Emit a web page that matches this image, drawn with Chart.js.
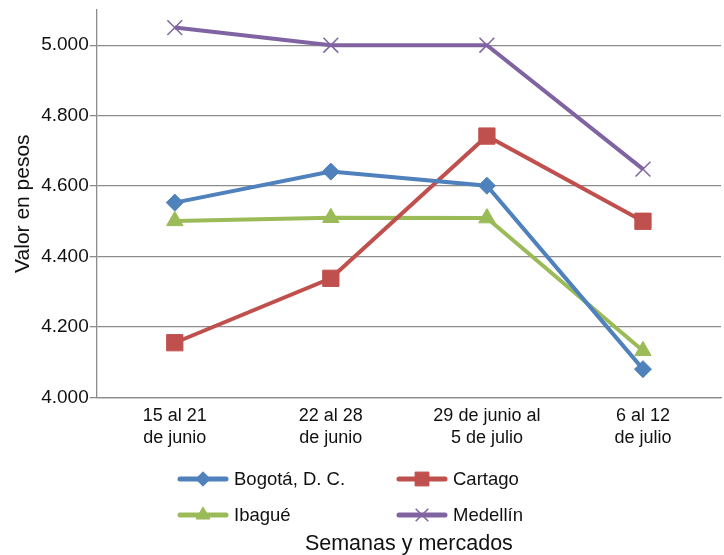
<!DOCTYPE html>
<html lang="es">
<head>
<meta charset="utf-8">
<title>Valor en pesos por semana y mercado</title>
<script src="https://cdn.jsdelivr.net/npm/chart.js@4.4.0/dist/chart.umd.min.js"></script>
<style>
    html, body { margin: 0; padding: 0; background: #fff; overflow: hidden; }
    #wrap { position: relative; width: 724px; height: 555px; }
</style>
</head>
<body>
<div id="wrap"><canvas id="grafica"></canvas></div>
<script>
// semanas (eje x), cada una en dos líneas
const semanas = [
    ['15 al 21', 'de junio'],
    ['22 al 28', 'de junio'],
    ['29 de junio al', '5 de julio'],
    ['6 al 12', 'de julio']
];
// precios, en pesos
const bogota = [4553, 4641, 4601, 4080];
const cartago = [4155, 4338, 4742, 4500];
const ibague = [4501, 4510, 4509, 4132];
const medellin = [5050, 5000, 5000, 4648];
// marcas del eje y
const yMin = 4000, yMax = 5100, yPaso = 200;

const TXT = '#111111';
const GRID = '#8c8c8c';
const FONT = "'Liberation Sans', Arial, sans-serif";

// formato 5.000
const miles = v => String(v).replace(/\B(?=(\d{3})+(?!\d))/g, '.');

const serie = (label, data, color, style, radius, bw) => ({
    label: label,
    data: data,
    borderColor: color,
    backgroundColor: color,
    borderWidth: 4,
    tension: 0,
    pointStyle: style,
    pointRadius: radius,
    pointHoverRadius: radius,
    pointBorderWidth: bw,
    pointBorderColor: color,
    pointBackgroundColor: color
});

/**
 * Leyenda en dos columnas, línea con marcador como en Excel
 */
const leyenda = {
    id: 'leyenda',
    afterDraw(chart) {
        const ctx = chart.ctx;
        const cols = [180, 399];
        const rows = [479, 515];
        ctx.save();
        chart.data.datasets.forEach((ds, i) => {
            const x = cols[i % 2], y = rows[Math.floor(i / 2)];
            ctx.strokeStyle = ds.borderColor;
            ctx.fillStyle = ds.borderColor;
            ctx.lineWidth = 5;
            ctx.lineCap = 'round';
            ctx.beginPath();
            ctx.moveTo(x, y);
            ctx.lineTo(x + 46, y);
            ctx.stroke();
            ctx.lineCap = 'butt';
            ctx.lineWidth = ds.pointBorderWidth;
            Chart.helpers.drawPoint(ctx, {
                pointStyle: ds.pointStyle,
                radius: ds.pointRadius * 0.85,
                rotation: 0,
                borderWidth: ds.pointBorderWidth
            }, x + 23, y);
            ctx.fillStyle = TXT;
            ctx.font = '18.5px ' + FONT;
            ctx.textBaseline = 'middle';
            ctx.textAlign = 'left';
            ctx.fillText(ds.label, x + 54, y + 1);
        });
        ctx.restore();
    }
};

const element = document.getElementById('grafica').getContext('2d');
const graph = new Chart(element, {
    type: 'line',
    data: {
        labels: semanas,
        datasets: [
            serie('Bogotá, D. C.', bogota, '#4f81bd', 'rectRot', 8.5, 1),
            serie('Cartago', cartago, '#c0504d', 'rect', 11.5, 1),
            serie('Ibagué', ibague, '#9bbb59', 'triangle', 9.5, 1),
            serie('Medellín', medellin, '#8064a2', 'crossRot', 10.5, 1.5)
        ]
    },
    options: {
        responsive: true,
        maintainAspectRatio: false,
        animation: false,
        layout: { autoPadding: false, padding: { top: 10, right: 3, left: 7, bottom: 0 } },
        plugins: {
            legend: { display: false },
            tooltip: { enabled: false },
            title: {
                display: true,
                position: 'bottom',
                fullSize: false,
                text: 'Semanas y mercados',
                color: TXT,
                font: { family: FONT, size: 21.5, weight: 'normal', lineHeight: 1 },
                padding: { top: 77, bottom: 0 }
            }
        },
        scales: {
            x: {
                offset: true,
                afterFit: axis => { axis.paddingLeft = 0; axis.paddingRight = 0; },
                grid: { display: false, drawTicks: false },
                border: { display: true, color: GRID, width: 1.3 },
                ticks: {
                    color: TXT,
                    padding: 8,
                    maxRotation: 0,
                    autoSkip: false,
                    font: { family: FONT, size: 18, lineHeight: 1.2 }
                }
            },
            y: {
                min: yMin,
                max: yMax,
                afterBuildTicks: axis => {
                    axis.ticks = axis.ticks.filter(t => t.value % yPaso === 0);
                },
                afterFit: axis => { axis.paddingTop = 0; },
                grid: { color: GRID, lineWidth: 1.3, tickLength: 7 },
                border: { display: true, color: GRID, width: 1.3 },
                ticks: {
                    stepSize: yPaso,
                    color: TXT,
                    padding: 1,
                    font: { family: FONT, size: 19 },
                    callback: v => miles(v)
                },
                title: {
                    display: true,
                    text: 'Valor en pesos',
                    color: TXT,
                    font: { family: FONT, size: 21, lineHeight: 1.2 },
                    padding: 4
                }
            }
        }
    },
    plugins: [leyenda]
});
</script>
</body>
</html>
